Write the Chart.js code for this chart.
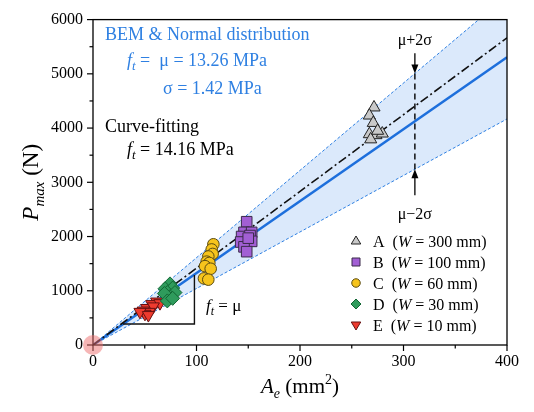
<!DOCTYPE html>
<html>
<head>
<meta charset="utf-8">
<script src="https://cdn.jsdelivr.net/npm/chart.js@4.4.1/dist/chart.umd.min.js"></script>
<style>
html,body{margin:0;padding:0;background:#fff;}
#wrap{width:534px;height:412px;position:relative;}
</style>
</head>
<body>
<div id="wrap"><canvas id="c" width="534" height="412"></canvas></div>
<script>
// ---- data ----
const xTicks = [0, 100, 200, 300, 400];
const yTicks = [0, 1000, 2000, 3000, 4000, 5000, 6000];
const groupNames = ['A', 'B', 'C', 'D', 'E'];
const groupWidths = ['300', '100', '60', '30', '10'];

const aA = [271.5, 267, 270.8, 267, 273.4, 279.5, 268.3, 275];
const pA = [4380, 4231, 4095, 3887, 3869, 3899, 3792, 3950];
const aB = [148.5, 145.9, 153.3, 143.6, 151.7, 142.7, 153.3, 145.9, 148.5, 150];
const pB = [2273, 2077, 2077, 2000, 2018, 1899, 1911, 1810, 1721, 1970];
const aC = [116.3, 114.7, 115.6, 111.4, 109.8, 112.4, 108.2, 113.7, 107.2, 111.4];
const pC = [1857, 1762, 1679, 1632, 1537, 1513, 1454, 1406, 1228, 1205];
const aD = [74.4, 69.6, 77, 71.8, 79.2, 74.4, 69, 71.8, 77];
const pD = [1127, 1038, 1050, 967, 967, 890, 949, 813, 860];
const aE = [61.5, 56.7, 64.7, 51.9, 58.3, 48.6, 54.4, 50.2, 45.4, 53.5];
const pE = [801, 754, 771, 682, 712, 635, 611, 575, 611, 552];

// reference lines: P = f_t * A, endpoints at A = 0 and A = 400
const lineA = [0, 400];
const muLine = [0, 5304];      // mu = 13.26 MPa
const fitLine = [0, 5664];     // curve fitting 14.16 MPa
const upperLine = [0, 6440];   // mu + 2 sigma
const lowerLine = [0, 4168];   // mu - 2 sigma
// slope triangle
const triA = [29, 98, 98];
const triP = [386, 386, 1290];
// sigma marker (vertical dashed line between bounds)
const sigA = 311;
const sigUpper = 5007, sigLower = 3241;

const SERIF = '"Liberation Serif","Times New Roman",serif';
const BLUE = '#2f80e2';
const colors = {
  A: {fill:'#c9c9c9', stroke:'#222'},
  B: {fill:'#a25fd4', stroke:'#3a2a4a'},
  C: {fill:'#f6c41c', stroke:'#5a4a10'},
  D: {fill:'#2f9b5c', stroke:'#163'},
  E: {fill:'#ee3b2f', stroke:'#611'}
};

function pts(xs, ys){ return xs.map((x,i)=>({x:x, y:ys[i]})); }

const lineStyle = {showLine:true, pointRadius:0, pointHoverRadius:0, tension:0};

const datasets = [
  Object.assign({label:'upper', data:pts(lineA, upperLine), borderColor:BLUE, borderWidth:1, borderDash:[3,2],
    fill:'+1', backgroundColor:'rgba(195,218,248,0.6)', order:10}, lineStyle),
  Object.assign({label:'lower', data:pts(lineA, lowerLine), borderColor:BLUE, borderWidth:1, borderDash:[3,2],
    fill:false, order:9}, lineStyle),
  Object.assign({label:'mu', data:pts(lineA, muLine), borderColor:'#1d6fdc', borderWidth:2.5, fill:false, order:8}, lineStyle),
  Object.assign({label:'fit', data:pts(lineA, fitLine), borderColor:'#111', borderWidth:1.6, borderDash:[9,3,2,3], fill:false, order:7}, lineStyle),
  Object.assign({label:'tri', data:pts(triA, triP), borderColor:'#111', borderWidth:1.4, fill:false, order:6}, lineStyle),
  {label:'A', data:pts(aA,pA), pointStyle:'triangle', pointRadius:7, backgroundColor:colors.A.fill, borderColor:colors.A.stroke, borderWidth:1, showLine:false, order:1},
  {label:'B', data:pts(aB,pB), pointStyle:'rect', pointRadius:7.5, backgroundColor:colors.B.fill, borderColor:colors.B.stroke, borderWidth:1, showLine:false, order:1},
  {label:'C', data:pts(aC,pC), pointStyle:'circle', pointRadius:5.8, backgroundColor:colors.C.fill, borderColor:colors.C.stroke, borderWidth:1, showLine:false, order:1},
  {label:'D', data:pts(aD,pD), pointStyle:'rectRot', pointRadius:7, backgroundColor:colors.D.fill, borderColor:colors.D.stroke, borderWidth:1, showLine:false, order:1},
  {label:'E', data:pts(aE,pE), pointStyle:'triangle', rotation:180, pointRadius:7, backgroundColor:colors.E.fill, borderColor:colors.E.stroke, borderWidth:1, showLine:false, order:1}
];

function drawRich(ctx, x, y, parts, align){
  let total = 0;
  parts.forEach(p=>{ ctx.font = (p.italic?'italic ':'') + p.size + 'px ' + SERIF; p.w = ctx.measureText(p.t).width; total += p.w + (p.gap||0); });
  let cx = x;
  if (align === 'center') cx = x - total/2;
  ctx.textAlign = 'left';
  ctx.textBaseline = 'alphabetic';
  parts.forEach(p=>{
    ctx.font = (p.italic?'italic ':'') + p.size + 'px ' + SERIF;
    ctx.fillStyle = p.color || '#000';
    ctx.fillText(p.t, cx, y + (p.dy||0));
    cx += p.w + (p.gap||0);
  });
  return total;
}

function marker(ctx, style, x, y, r, fill, stroke){
  ctx.save();
  ctx.fillStyle = fill; ctx.strokeStyle = stroke; ctx.lineWidth = 1;
  ctx.beginPath();
  if (style === 'triUp'){ ctx.moveTo(x, y-r); ctx.lineTo(x+r*0.95, y+r*0.6); ctx.lineTo(x-r*0.95, y+r*0.6); ctx.closePath(); }
  else if (style === 'triDown'){ ctx.moveTo(x, y+r); ctx.lineTo(x+r*0.95, y-r*0.6); ctx.lineTo(x-r*0.95, y-r*0.6); ctx.closePath(); }
  else if (style === 'rect'){ ctx.rect(x-r*0.8, y-r*0.8, r*1.6, r*1.6); }
  else if (style === 'circle'){ ctx.arc(x, y, r*0.85, 0, Math.PI*2); }
  else if (style === 'diamond'){ ctx.moveTo(x, y-r); ctx.lineTo(x+r, y); ctx.lineTo(x, y+r); ctx.lineTo(x-r, y); ctx.closePath(); }
  ctx.fill(); ctx.stroke();
  ctx.restore();
}

function arrow(ctx, x, y0, y1){
  ctx.save();
  ctx.strokeStyle = '#000'; ctx.fillStyle = '#000'; ctx.lineWidth = 1.3; ctx.setLineDash([]);
  const dir = Math.sign(y1 - y0);
  ctx.beginPath(); ctx.moveTo(x, y0); ctx.lineTo(x, y1 - dir*7); ctx.stroke();
  ctx.beginPath(); ctx.moveTo(x, y1); ctx.lineTo(x-3.5, y1 - dir*9); ctx.lineTo(x+3.5, y1 - dir*9); ctx.closePath(); ctx.fill();
  ctx.restore();
}

const decor = {
  id:'decor',
  afterDatasetsDraw(chart){
    const ctx = chart.ctx, xs = chart.scales.x, ys = chart.scales.y;
    ctx.save();
    const vx = xs.getPixelForValue(sigA);
    ctx.strokeStyle = '#000'; ctx.lineWidth = 1.4; ctx.setLineDash([6,4]);
    ctx.beginPath(); ctx.moveTo(vx, ys.getPixelForValue(sigUpper)); ctx.lineTo(vx, ys.getPixelForValue(sigLower)); ctx.stroke();
    ctx.setLineDash([]);
    arrow(ctx, vx, ys.getPixelForValue(5380), ys.getPixelForValue(sigUpper));
    arrow(ctx, vx, ys.getPixelForValue(2760), ys.getPixelForValue(sigLower));
    ctx.fillStyle = '#000'; ctx.font = '16px ' + SERIF; ctx.textAlign = 'center'; ctx.textBaseline = 'alphabetic';
    ctx.fillText('\u03bc+2\u03c3', vx, ys.getPixelForValue(5640) + 6);
    ctx.fillText('\u03bc\u22122\u03c3', vx, ys.getPixelForValue(2440) + 6);

    drawRich(ctx, 105, 40, [{t:'BEM & Normal distribution', size:18, color:BLUE}]);
    drawRich(ctx, 127, 66, [{t:'f', size:18, italic:true, color:BLUE},{t:'t', size:13, italic:true, dy:4, color:BLUE},{t:' =  \u03bc = 13.26 MPa', size:18, color:BLUE}]);
    drawRich(ctx, 163, 94, [{t:'\u03c3 = 1.42 MPa', size:18, color:BLUE}]);
    drawRich(ctx, 105, 132, [{t:'Curve-fitting', size:18}]);
    drawRich(ctx, 127, 155, [{t:'f', size:18, italic:true},{t:'t', size:13, italic:true, dy:4},{t:' = 14.16 MPa', size:18}]);
    drawRich(ctx, 206, 311, [{t:'f', size:17, italic:true},{t:'t', size:12, italic:true, dy:4},{t:' = \u03bc', size:17}]);

    const styles = ['triUp','rect','circle','diamond','triDown'];
    groupNames.forEach((g,i)=>{
      const y = 241 + i*21;
      marker(ctx, styles[i], 356, y, 5, colors[g].fill, colors[g].stroke);
      drawRich(ctx, 373, y + 5.5, [
        {t:g, size:16},{t:'  (', size:16},{t:'W', size:16, italic:true},{t:' = ' + groupWidths[i] + ' mm)', size:16}
      ]);
    });
    ctx.restore();
  },
  afterDraw(chart){
    const ctx = chart.ctx, xs = chart.scales.x, ys = chart.scales.y, ca = chart.chartArea;
    ctx.save();
    ctx.strokeStyle = '#000'; ctx.lineWidth = 1.3;
    ctx.strokeRect(ca.left, ca.top, ca.right - ca.left, ca.bottom - ca.top);
    ctx.lineWidth = 1.2;
    for (let v = 0; v <= 400; v += 50){
      const x = xs.getPixelForValue(v), len = (v % 100 === 0) ? 6 : 3.5;
      ctx.beginPath(); ctx.moveTo(x, ca.bottom); ctx.lineTo(x, ca.bottom + len); ctx.stroke();
    }
    for (let v = 0; v <= 6000; v += 500){
      const y = ys.getPixelForValue(v), len = (v % 1000 === 0) ? 6 : 3.5;
      ctx.beginPath(); ctx.moveTo(ca.left, y); ctx.lineTo(ca.left - len, y); ctx.stroke();
    }
    ctx.fillStyle = 'rgba(238,110,110,0.5)';
    ctx.beginPath(); ctx.arc(xs.getPixelForValue(0), ys.getPixelForValue(0), 10, 0, Math.PI*2); ctx.fill();
    drawRich(ctx, (ca.left + ca.right)/2, 393, [
      {t:'A', size:21, italic:true},{t:'e', size:14, italic:true, dy:5},{t:' (mm', size:21},{t:'2', size:14, dy:-9},{t:')', size:21}
    ], 'center');
    ctx.translate(38, (ca.top + ca.bottom)/2);
    ctx.rotate(-Math.PI/2);
    drawRich(ctx, 0, 0, [
      {t:'P', size:23, italic:true},{t:'max', size:15, italic:true, dy:6},{t:' (N)', size:23}
    ], 'center');
    ctx.restore();
  }
};

new Chart(document.getElementById('c'), {
  type:'scatter',
  data:{datasets},
  options:{
    responsive:false, animation:false, devicePixelRatio:1,
    layout:{padding:{left:0, top:8, right:27, bottom:0}},
    plugins:{legend:{display:false}, tooltip:{enabled:false}},
    scales:{
      x:{type:'linear', min:0, max:400,
        afterFit(s){ s.height = 67; },
        afterBuildTicks(s){ s.ticks = xTicks.map(v=>({value:v})); },
        grid:{display:false, drawTicks:false}, border:{display:false},
        ticks:{padding:7, color:'#000', font:{family:SERIF, size:16}, callback:v=>String(v)}},
      y:{type:'linear', min:0, max:6000,
        afterFit(s){ s.width = 93; },
        afterBuildTicks(s){ s.ticks = yTicks.map(v=>({value:v})); },
        grid:{display:false, drawTicks:false}, border:{display:false},
        ticks:{padding:10, color:'#000', font:{family:SERIF, size:16}, callback:v=>String(v)}}
    }
  },
  plugins:[decor]
});
</script>
</body>
</html>
